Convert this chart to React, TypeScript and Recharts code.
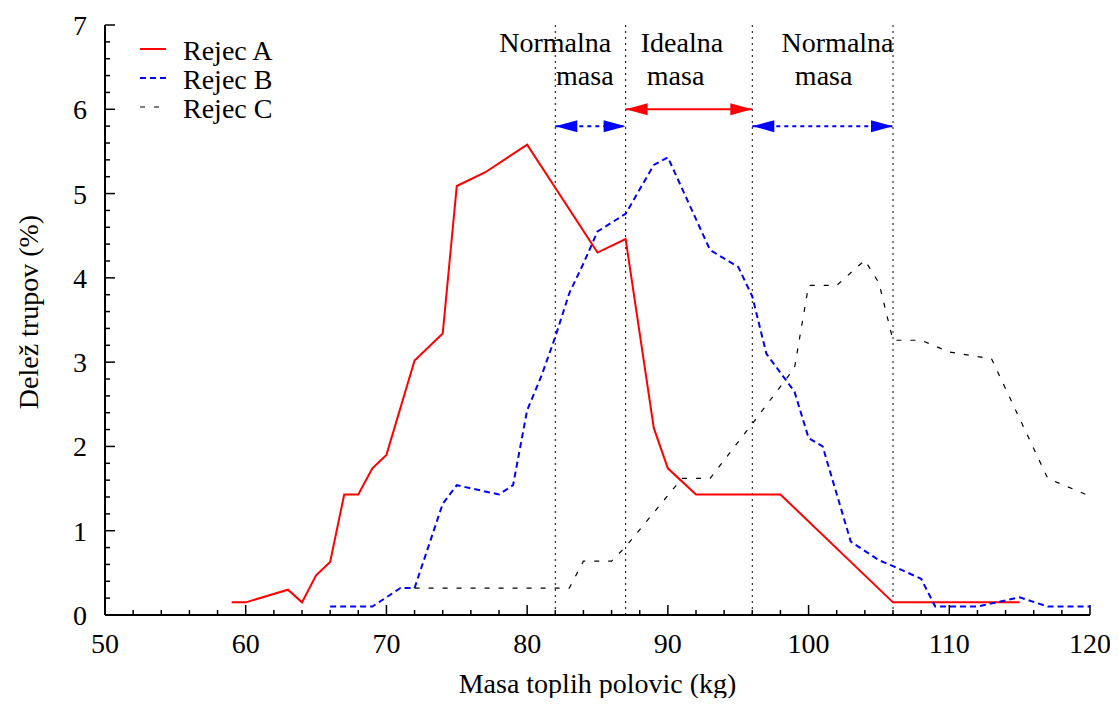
import React from "react";
import {
  LineChart,
  Line,
  XAxis,
  YAxis,
  ReferenceLine,
  ReferenceDot,
  Legend,
} from "recharts";

// Rejec A (red, solid)
const rejecAKg = [59, 60, 63, 64, 65, 66, 67, 68, 69, 70, 72, 74, 75, 77, 80, 85, 87, 89, 90, 92, 98, 106, 115];
const rejecAPct = [0.15, 0.15, 0.3, 0.15, 0.47, 0.63, 1.43, 1.43, 1.74, 1.9, 3.02, 3.34, 5.09, 5.25, 5.58, 4.3, 4.46, 2.22, 1.74, 1.43, 1.43, 0.15, 0.15];

// Rejec B (blue, dashed)
const rejecBKg = [66, 69, 71, 72, 74, 75, 78, 79, 80, 81, 82, 83, 84, 85, 87, 89, 90, 93, 95, 96, 97, 99, 100, 101, 103, 105, 106, 108, 109, 112, 115, 117, 120];
const rejecBPct = [0.1, 0.1, 0.32, 0.32, 1.32, 1.54, 1.43, 1.54, 2.43, 2.83, 3.3, 3.82, 4.17, 4.55, 4.76, 5.34, 5.43, 4.33, 4.13, 3.78, 3.1, 2.65, 2.1, 2.0, 0.87, 0.65, 0.58, 0.43, 0.1, 0.1, 0.21, 0.1, 0.1];

// Rejec C (black, thin dashed)
const rejecCKg = [72, 83, 84, 86, 87, 91, 93, 96, 99, 100, 102, 104, 105, 106, 108, 110, 113, 117, 120];
const rejecCPct = [0.32, 0.32, 0.64, 0.64, 0.81, 1.62, 1.62, 2.27, 2.93, 3.91, 3.91, 4.21, 3.94, 3.26, 3.26, 3.12, 3.04, 1.62, 1.41];

// axis ticks
const xTicks = [50, 52, 54, 56, 58, 60, 62, 64, 66, 68, 70, 72, 74, 76, 78, 80, 82, 84, 86, 88, 90, 92, 94, 96, 98, 100, 102, 104, 106, 108, 110, 112, 114, 116, 118, 120];
const xTickLabels = [50, 60, 70, 80, 90, 100, 110, 120];
const yTicks = [0, 0.2, 0.4, 0.6, 0.8, 1, 1.2, 1.4, 1.6, 1.8, 2, 2.2, 2.4, 2.6, 2.8, 3, 3.2, 3.4, 3.6, 3.8, 4, 4.2, 4.4, 4.6, 4.8, 5, 5.2, 5.4, 5.6, 5.8, 6, 6.2, 6.4, 6.6, 6.8, 7];
const yTickLabels = [0, 1, 2, 3, 4, 5, 6, 7];

// mass zone boundaries and annotations
const zoneBounds = [82, 87, 96, 106];
const idealSpan = [87, 96];
const normalSpans = [[82, 87], [96, 106]];
const zoneTexts = [
  { text: "Normalna", kg: 82, pct: 6.68 },
  { text: "masa", kg: 84.1, pct: 6.29 },
  { text: "Idealna", kg: 91, pct: 6.68 },
  { text: "masa", kg: 90.55, pct: 6.29 },
  { text: "Normalna", kg: 102.06, pct: 6.68 },
  { text: "masa", kg: 101.07, pct: 6.29 },
];

const FONT = '"Liberation Serif", "Times New Roman", serif';

const toPoints = (kg: number[], pct: number[]) =>
  kg.map((k, i) => ({ kg: k, pct: pct[i] }));

const series = [
  { name: "Rejec A", data: toPoints(rejecAKg, rejecAPct), color: "#ff0000", width: 2, dash: undefined as string | undefined },
  { name: "Rejec B", data: toPoints(rejecBKg, rejecBPct), color: "#0000ff", width: 2, dash: "6 4" },
  { name: "Rejec C", data: toPoints(rejecCKg, rejecCPct), color: "#000000", width: 1.2, dash: "5 9" },
];

const XTick = (props: any) => {
  const { x, y, payload } = props;
  const major = xTickLabels.includes(payload.value);
  return (
    <g>
      <line x1={x} x2={x} y1={y} y2={y - (major ? 10 : 5)} stroke="#000" strokeWidth={1.5} />
      {major && (
        <text x={x} y={y + 38} textAnchor="middle" fontSize={28} fontFamily={FONT} fill="#000">
          {payload.value}
        </text>
      )}
    </g>
  );
};

const YTick = (props: any) => {
  const { x, y, payload } = props;
  const major = yTickLabels.includes(payload.value);
  return (
    <g>
      <line x1={x} x2={x + (major ? 10 : 5)} y1={y} y2={y} stroke="#000" strokeWidth={1.5} />
      {major && (
        <text x={x - 18} y={y + 10} textAnchor="end" fontSize={28} fontFamily={FONT} fill="#000">
          {payload.value}
        </text>
      )}
    </g>
  );
};

const arrowShape = (color: string, dash?: string) => (props: any) => {
  const { x1, y1, x2, y2 } = props;
  const L = 22;
  const H = 6;
  const s = x2 > x1 ? 1 : -1;
  return (
    <g>
      <line x1={x1} y1={y1} x2={x2} y2={y2} stroke={color} strokeWidth={2} strokeDasharray={dash} />
      <polygon points={`${x1},${y1} ${x1 + s * L},${y1 - H} ${x1 + s * L},${y1 + H}`} fill={color} />
      <polygon points={`${x2},${y2} ${x2 - s * L},${y2 - H} ${x2 - s * L},${y2 + H}`} fill={color} />
    </g>
  );
};

const textShape = (text: string) => (props: any) => (
  <text x={props.cx} y={props.cy} textAnchor="middle" fontSize={28} fontFamily={FONT} fill="#000">
    {text}
  </text>
);

const LegendBox = () => (
  <svg width={300} height={130} style={{ display: "block" }}>
    {series.map((s, i) => (
      <g key={s.name}>
        <line
          x1={132}
          x2={158}
          y1={41 + i * 29}
          y2={41 + i * 29}
          stroke={s.color}
          strokeWidth={s.width}
          strokeDasharray={s.dash}
        />
        <text x={175} y={52 + i * 29} fontSize={28} fontFamily={FONT} fill="#000">
          {s.name}
        </text>
      </g>
    ))}
  </svg>
);

export default function App() {
  return (
    <div style={{ fontFamily: FONT }}>
      <LineChart width={1102} height={690} margin={{ top: 17, right: 20, left: 0, bottom: 0 }}>
        <XAxis
          dataKey="kg"
          type="number"
          domain={[50, 120]}
          ticks={xTicks}
          interval={0}
          tickSize={0}
          tickMargin={0}
          tickLine={false}
          tick={<XTick />}
          height={83}
          axisLine={{ stroke: "#000", strokeWidth: 2 }}
          label={() => (
            <text x={589.5} y={685} textAnchor="middle" fontSize={28} fontFamily={FONT} fill="#000">
              Masa toplih polovic (kg)
            </text>
          )}
        />
        <YAxis
          type="number"
          domain={[0, 7]}
          ticks={yTicks}
          interval={0}
          tickSize={0}
          tickMargin={0}
          tickLine={false}
          tick={<YTick />}
          width={97}
          axisLine={{ stroke: "#000", strokeWidth: 2 }}
          label={() => (
            <text
              x={30}
              y={304}
              transform="rotate(-90, 30, 304)"
              textAnchor="middle"
              fontSize={28}
              fontFamily={FONT}
              fill="#000"
            >
              Delež trupov (%)
            </text>
          )}
        />
        {zoneBounds.map((b) => (
          <ReferenceLine key={b} x={b} stroke="#000" strokeWidth={1} strokeDasharray="2 4" />
        ))}
        <ReferenceLine
          segment={[{ x: idealSpan[0], y: 6 }, { x: idealSpan[1], y: 6 }]}
          shape={arrowShape("#ff0000")}
        />
        {normalSpans.map((sp) => (
          <ReferenceLine
            key={sp[0]}
            segment={[{ x: sp[0], y: 5.8 }, { x: sp[1], y: 5.8 }]}
            shape={arrowShape("#0000ff", "4 4")}
          />
        ))}
        {zoneTexts.map((t, i) => (
          <ReferenceDot key={i} x={t.kg} y={t.pct} r={0} shape={textShape(t.text)} />
        ))}
        {series.map((s) => (
          <Line
            key={s.name}
            data={s.data}
            dataKey="pct"
            name={s.name}
            type="linear"
            stroke={s.color}
            strokeWidth={s.width}
            strokeDasharray={s.dash}
            dot={false}
            activeDot={false}
            isAnimationActive={false}
          />
        ))}
        <Legend
          layout="vertical"
          align="center"
          verticalAlign="middle"
          content={() => <LegendBox />}
          wrapperStyle={{ left: 0, top: 0, width: 300, height: 130, pointerEvents: "none" }}
        />
      </LineChart>
    </div>
  );
}
